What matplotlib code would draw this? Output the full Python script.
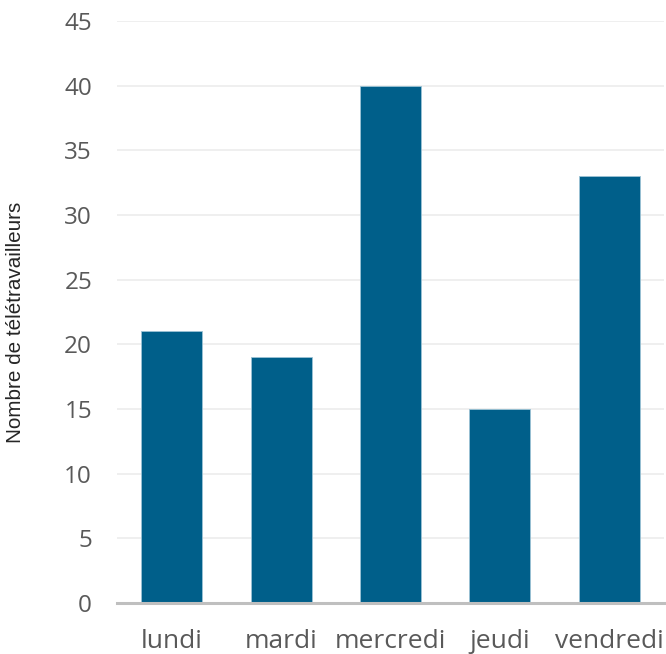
import matplotlib
matplotlib.use("Agg")
import matplotlib.pyplot as plt

# Number of remote workers per weekday
jours = ["lundi", "mardi", "mercredi", "jeudi", "vendredi"]
teletravailleurs = [21, 19, 40, 15, 33]
graduations = [0, 5, 10, 15, 20, 25, 30, 35, 40, 45]

W, H = 666, 654
fig = plt.figure(figsize=(W / 100, H / 100), dpi=100)
ax = fig.add_axes([117 / W, 1 - 603 / H, (664 - 117) / W, (603 - 21) / H])

x = list(range(len(jours)))
ax.bar(x, teletravailleurs, width=0.557, color="#005F8A",
       edgecolor="#9CC3D5", linewidth=0.6, zorder=3)

ax.set_xlim(-0.5, len(jours) - 0.5)
ax.set_ylim(0, 45)
ax.set_yticks(graduations)
ax.set_xticks(x)
ax.set_xticklabels(jours)

for s in ["top", "right", "left"]:
    ax.spines[s].set_visible(False)
ax.spines["bottom"].set_color("#BFBFBF")
ax.spines["bottom"].set_linewidth(2.2)
ax.spines["bottom"].set_zorder(4)

ax.grid(axis="y", color="#EEEEEE", linewidth=1.3, zorder=0)
ax.tick_params(axis="both", length=0, labelcolor="#595959")
ax.tick_params(axis="y", pad=18, labelsize=17.5)
ax.tick_params(axis="x", pad=19, labelsize=19)
for lab in ax.get_xticklabels() + ax.get_yticklabels():
    lab.set_family("Open Sans")

fig.text(16 / W, 1 - 322 / H, "Nombre de télétravailleurs", rotation=90,
         ha="center", va="center", fontsize=14.9, family="Liberation Sans",
         color="#262626")

fig.savefig("out.png", dpi=100)
